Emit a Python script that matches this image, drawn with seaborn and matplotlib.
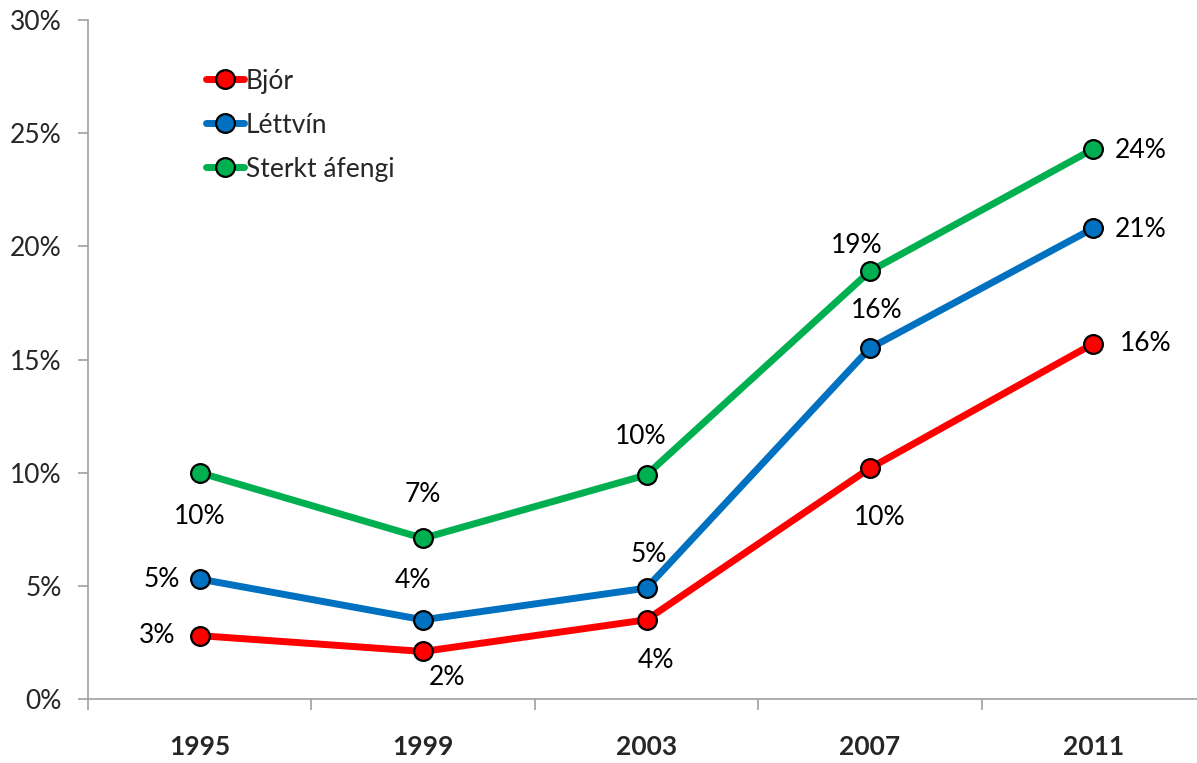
import matplotlib
matplotlib.use("Agg")
import matplotlib.pyplot as plt
import seaborn as sns
import pandas as pd
from matplotlib.ticker import FuncFormatter, FixedLocator

years = ["1995", "1999", "2003", "2007", "2011"]
series_names = ["Bjór", "Léttvín", "Sterkt áfengi"]
bjor = [2.8, 2.1, 3.5, 10.2, 15.7]
lettvin = [5.3, 3.5, 4.9, 15.5, 20.8]
sterkt = [10.0, 7.1, 9.9, 18.9, 24.3]
bjor_labels = ["3%", "2%", "4%", "10%", "16%"]
lettvin_labels = ["5%", "4%", "5%", "16%", "21%"]
sterkt_labels = ["10%", "7%", "10%", "19%", "24%"]
colors = ["#FF0000", "#0070C0", "#00B050"]

# label offsets in pixels (dx, dy up)
offs = [
    [(-43, 0), (24, -26), (9, -41), (10, -49), (52, 0)],
    [(-38, 0), (-10, 39), (2, 34), (7, 38), (47, -1)],
    [(0, -44), (0, 44), (-6, 38), (-13, 26), (47, -1)],
]

rows = []
for name, vals in zip(series_names, [bjor, lettvin, sterkt]):
    for i, v in enumerate(vals):
        rows.append({"pos": i, "val": v, "series": name})
df = pd.DataFrame(rows)

sns.set_style("white")
plt.rcParams["font.family"] = ["Lato", "DejaVu Sans"]
FS = 19

fig = plt.figure(figsize=(11.97, 7.63), dpi=100)
ax = fig.add_axes([88 / 1197, 1 - 699 / 763, (1205 - 88) / 1197, (699 - 20) / 763])

sns.lineplot(data=df, x="pos", y="val", hue="series", palette=colors,
             hue_order=series_names, marker="o", markersize=13.5,
             markeredgecolor="black", markeredgewidth=1.6, linewidth=5,
             ax=ax, legend=True, zorder=3, clip_on=False)

for vals, labs, off in zip([bjor, lettvin, sterkt],
                           [bjor_labels, lettvin_labels, sterkt_labels], offs):
    for i, (v, l) in enumerate(zip(vals, labs)):
        ax.annotate(l, (i, v), xytext=(off[i][0] * 0.72, off[i][1] * 0.72),
                    textcoords="offset points", ha="center", va="center",
                    fontsize=FS, color="black")

ax.set_xlim(-0.5, 4.5)
ax.set_ylim(0, 30)
ax.yaxis.set_major_locator(FixedLocator([0, 5, 10, 15, 20, 25, 30]))
ax.yaxis.set_major_formatter(FuncFormatter(lambda v, p: f"{int(v)}%"))
ax.set_xticks(range(5))
ax.set_xticklabels(years, fontsize=FS, fontweight="bold")
ax.xaxis.set_minor_locator(FixedLocator([-0.5, 0.5, 1.5, 2.5, 3.5, 4.5]))
ax.tick_params(axis="x", which="both", bottom=True)
ax.tick_params(axis="x", which="major", length=0, pad=26)
ax.tick_params(axis="x", which="minor", length=8, width=1.2, color="#A0A0A0")
ax.tick_params(axis="y", left=True, length=7, width=1.2, color="#A0A0A0",
               labelsize=FS, pad=12)
ax.set_xlabel("")
ax.set_ylabel("")

for s in ["top", "right"]:
    ax.spines[s].set_visible(False)
for s in ["left", "bottom"]:
    ax.spines[s].set_color("#A0A0A0")
    ax.spines[s].set_linewidth(1.2)

leg = ax.legend(loc="upper left", bbox_to_anchor=(0.094, 0.948), frameon=False,
                fontsize=FS, handlelength=1.45, handletextpad=0.05,
                labelspacing=0.72, borderpad=0)
for h in leg.legend_handles:
    h.set_markersize(13.5)
    h.set_linewidth(5)

fig.savefig("out.png", dpi=100)
